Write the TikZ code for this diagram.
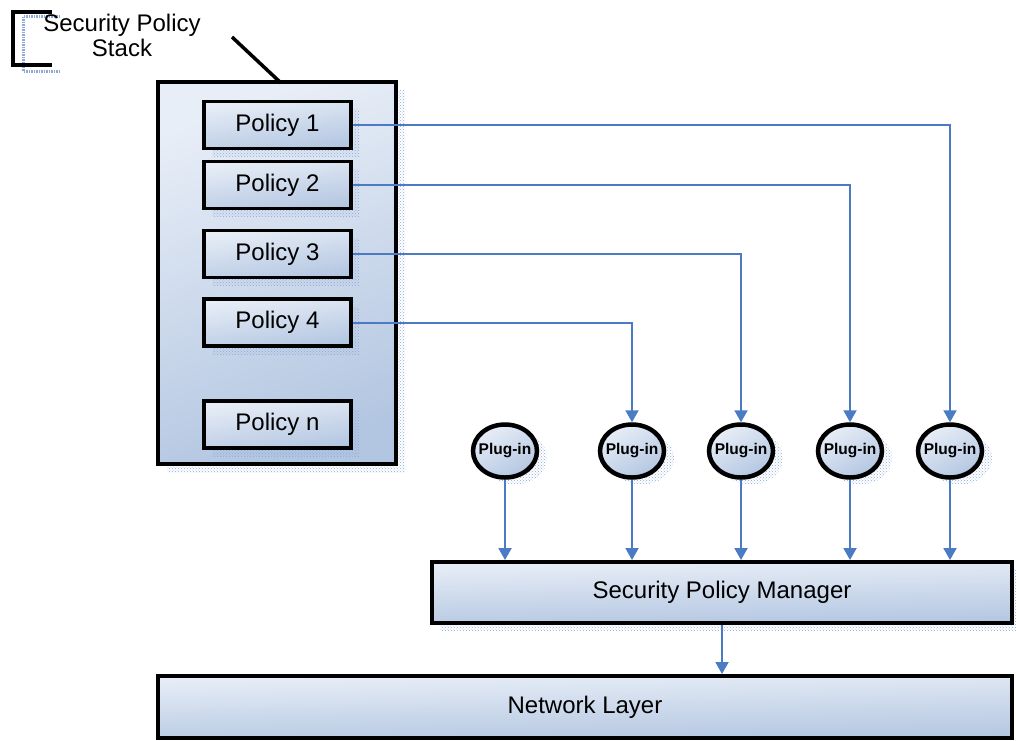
\documentclass[tikz,border=0pt]{standalone}
\usepackage{fontspec}
\setmainfont{Liberation Sans}
\usetikzlibrary{shapes.geometric,arrows.meta,patterns,shadows}
\definecolor{lite}{HTML}{E8EEF7}
\definecolor{deep}{HTML}{B3C6E1}
\definecolor{wire}{HTML}{4A7BC4}
\definecolor{haze}{HTML}{8EA9D8}

\begin{document}
\begin{tikzpicture}[x=1pt,y=-1pt,
  grad/.style={top color=lite,bottom color=deep,shading angle=#1},
  grad/.default=8,
  hazy/.style={general shadow={shadow xshift=#1, shadow yshift=-8pt,
      pattern=crosshatch dots, pattern color=haze}},
  hazy/.default=8pt,
  box/.style={draw=black,line width=3.5pt,inner sep=0pt,
      font=\fontsize{24}{25}\selectfont},
  policy/.style={box,grad,hazy,minimum width=147pt,minimum height=47pt},
  plug/.style={ellipse,draw=black,line width=4.5pt,grad=30,inner sep=0pt,
      minimum width=64pt,minimum height=53pt,
      general shadow={shadow xshift=10pt, shadow yshift=-7pt,
      pattern=crosshatch dots, pattern color=haze},
      label={[font=\bfseries\fontsize{15.5}{15.5}\selectfont,inner sep=0pt]center:Plug-in}},
  conn/.style={draw=wire,line width=2pt,
      -{Triangle[width=13pt,length=12pt]}}
]
\useasboundingbox (0,0) rectangle (1016,740);

% annotation bracket with its faint shadow
\draw[haze,line width=3pt,dash pattern=on 1.5pt off 1pt] (60,16) -- (23,16) -- (23,71) -- (60,71);
\draw[black,line width=3.5pt] (52,12) -- (13,12) -- (13,65) -- (52,65);
\node[font=\fontsize{24}{25}\selectfont,align=center,inner sep=0pt] (lbl) at (122,35)
  {Security Policy\\Stack};

% policy stack container
\node[box,grad=20,hazy=9pt,minimum width=238pt,minimum height=382pt] (stack) at (277,273) {};
\coordinate (callTail) at (232,37);
\coordinate (callTip) at (281,83);
\draw[black,line width=3.5pt] (callTail) -- (callTip);

% policies
\node[policy] (p1) at (277.5,125) {Policy 1};
\node[policy] (p2) at (277.5,185) {Policy 2};
\node[policy] (p3) at (277.5,254) {Policy 3};
\node[policy] (p4) at (277.5,322.5) {Policy 4};
\node[policy] (pn) at (277.5,424.5) {Policy n};

% plug-ins
\node[plug] (g1) at (505,451) {};
\node[plug] (g2) at (632,451) {};
\node[plug] (g3) at (741,451) {};
\node[plug] (g4) at (850,451) {};
\node[plug] (g5) at (950,451) {};

% manager and network layer
\node[box,grad=1,line width=4pt,minimum width=580pt,minimum height=61pt,
  general shadow={shadow xshift=8pt, shadow yshift=-7pt,
  pattern=crosshatch dots, pattern color=haze}] (spm) at (722,592.5) {Security Policy Manager};
\node[box,grad=1,line width=4pt,minimum width=854pt,minimum height=62pt] (net) at (585,707) {Network Layer};

% policy to plug-in wiring
\draw[conn] (p1.east) -| (g5.north);
\draw[conn] (p2.east) -| (g4.north);
\draw[conn] (p3.east) -| (g3.north);
\draw[conn] (p4.east) -| (g2.north);

% plug-ins into the manager
\foreach \g in {g1,g2,g3,g4,g5}
  \draw[conn] (\g.south) -- (\g.south |- spm.north);

% manager to network layer
\draw[conn] (spm.south) -- (spm.south |- net.north);
\end{tikzpicture}
\end{document}
